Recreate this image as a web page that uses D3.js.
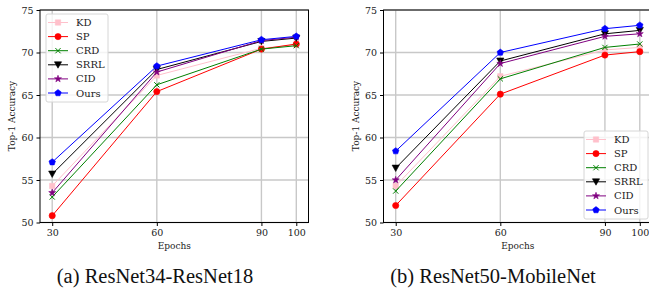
<!DOCTYPE html>
<html>
<head>
<meta charset="utf-8">
<script src="https://cdn.jsdelivr.net/npm/d3@7"></script>
<style>
  body { margin: 0; background: #fff; }
  svg { display: block; }
  .tick text { font-family: "DejaVu Serif", serif; font-size: 9.5px; fill: #222; }
</style>
</head>
<body>
<svg id="chart" width="649" height="295"></svg>
<script>
// data
var epochs   = [30, 60, 90, 100];
var methods  = ["KD", "SP", "CRD", "SRRL", "CID", "Ours"];
var colors   = ["#ffc0cb", "#ff0000", "#008000", "#000000", "#800080", "#0000ff"];
var markers  = ["square", "circle", "x", "tri", "star", "pent"];
var yTicks   = [50, 55, 60, 65, 70, 75];

// (a) ResNet34-ResNet18
var aKD   = [54.3, 67.3, 70.5, 70.9];
var aSP   = [50.8, 65.4, 70.4, 71.0];
var aCRD  = [53.0, 66.2, 70.4, 70.8];
var aSRRL = [55.7, 68.0, 71.3, 71.7];
var aCID  = [53.5, 67.7, 71.4, 71.8];
var aOurs = [57.1, 68.4, 71.5, 71.9];

// (b) ResNet50-MobileNet
var bKD   = [54.3, 67.2, 70.3, 70.6];
var bSP   = [52.0, 65.1, 69.7, 70.1];
var bCRD  = [53.7, 66.9, 70.6, 71.0];
var bSRRL = [56.4, 69.0, 72.2, 72.6];
var bCID  = [55.0, 68.7, 71.9, 72.2];
var bOurs = [58.4, 70.0, 72.8, 73.2];

var svg = d3.select("#chart");

function markerPath(kind) {
  var s = 6;
  if (kind == "square")   return d3.symbol().type(d3.symbolSquare).size(s * s * 0.8)();
  if (kind == "circle")   return d3.symbol().type(d3.symbolCircle).size(s * s * 0.85)();
  if (kind == "x")        return "M-2.6,-2.6L2.6,2.6M-2.6,2.6L2.6,-2.6";
  if (kind == "tri")      return "M-3.6,-3L3.6,-3L0,3.4Z";
  if (kind == "star")     return d3.symbol().type(d3.symbolStar).size(15)();
  if (kind == "pent") {
    var p = [];
    for (var i = 0; i < 5; i++) {
      var a = -Math.PI / 2 + i * 2 * Math.PI / 5;
      p.push([3.4 * Math.cos(a), 3.4 * Math.sin(a)]);
    }
    return "M" + p.join("L") + "Z";
  }
}

function drawMarker(g, kind, color, x, y) {
  var m = g.append("path")
      .attr("d", markerPath(kind))
      .attr("transform", "translate(" + x + "," + y + ")");
  if (kind == "x") m.attr("fill", "none").attr("stroke", color).attr("stroke-width", 1);
  else m.attr("fill", color).attr("stroke", color).attr("stroke-width", 0.6);
}

function panel(opt) {
  var x = d3.scaleLinear().domain([26.5, 103.5]).range([opt.left, opt.right]);
  var y = d3.scaleLinear().domain([50, 75]).range([222.5, 10]);
  var g = svg.append("g");

  // grid
  g.selectAll(".gx").data(epochs).enter().append("line")
      .attr("x1", function(d) { return x(d); }).attr("x2", function(d) { return x(d); })
      .attr("y1", y(50)).attr("y2", y(75))
      .attr("stroke", "#c8c8c8").attr("stroke-width", 1.4);
  g.selectAll(".gy").data(yTicks).enter().append("line")
      .attr("x1", opt.left).attr("x2", opt.right)
      .attr("y1", function(d) { return y(d); }).attr("y2", function(d) { return y(d); })
      .attr("stroke", "#c8c8c8").attr("stroke-width", 1.4);

  // series
  var line = d3.line().x(function(d, i) { return x(epochs[i]); }).y(function(d) { return y(d); });
  opt.series.forEach(function(s, k) {
    g.append("path").datum(s)
        .attr("d", line)
        .attr("fill", "none")
        .attr("stroke", colors[k])
        .attr("stroke-width", 1);
    s.forEach(function(v, i) { drawMarker(g, markers[k], colors[k], x(epochs[i]), y(v)); });
  });

  // frame
  g.append("rect")
      .attr("x", opt.left).attr("y", y(75))
      .attr("width", opt.right - opt.left).attr("height", y(50) - y(75))
      .attr("fill", "none").attr("stroke", "#000").attr("stroke-width", 1);

  // axes
  g.append("g").attr("transform", "translate(0," + y(50) + ")")
      .call(d3.axisBottom(x).tickValues(epochs).tickSize(3.5).tickPadding(3))
      .call(function(a) { a.select(".domain").remove(); });
  g.append("g").attr("transform", "translate(" + opt.left + ",0)")
      .call(d3.axisLeft(y).tickValues(yTicks).tickSize(3.5).tickPadding(3))
      .call(function(a) { a.select(".domain").remove(); });

  g.append("text")
      .attr("x", (opt.left + opt.right) / 2).attr("y", 249)
      .attr("text-anchor", "middle")
      .style("font-family", "DejaVu Serif, serif").style("font-size", "9px").style("fill", "#222")
      .text("Epochs");
  g.append("text")
      .attr("transform", "translate(" + (opt.left - 25) + ",116) rotate(-90)")
      .attr("text-anchor", "middle")
      .style("font-family", "DejaVu Serif, serif").style("font-size", "9px").style("fill", "#222")
      .text("Top-1 Accuracy");

  // legend
  var lg = g.append("g");
  lg.append("rect")
      .attr("x", opt.lx).attr("y", opt.ly)
      .attr("width", opt.lw).attr("height", 88).attr("rx", 2)
      .attr("fill", "rgba(255,255,255,0.8)").attr("stroke", "#d6d6d6").attr("stroke-width", 1);
  methods.forEach(function(name, k) {
    var yy = opt.ly + 8.5 + k * 14.1;
    lg.append("line")
        .attr("x1", opt.lx + 2).attr("x2", opt.lx + 22)
        .attr("y1", yy).attr("y2", yy)
        .attr("stroke", colors[k]).attr("stroke-width", 1);
    drawMarker(lg, markers[k], colors[k], opt.lx + 12, yy);
    lg.append("text")
        .attr("x", opt.lx + 30).attr("y", yy + 3.5)
        .style("font-family", "DejaVu Serif, serif").style("font-size", "10px").style("fill", "#222")
        .text(name);
  });

  // caption
  svg.append("text")
      .attr("x", opt.cx).attr("y", 283)
      .attr("text-anchor", "middle")
      .style("font-family", "Liberation Serif, serif").style("font-size", "20.5px").style("fill", "#111")
      .text(opt.caption);
}

panel({ left: 40, right: 308.5, series: [aKD, aSP, aCRD, aSRRL, aCID, aOurs],
        lx: 46, ly: 14, lw: 62, cx: 155, caption: "(a) ResNet34-ResNet18" });
panel({ left: 383.5, right: 652, series: [bKD, bSP, bCRD, bSRRL, bCID, bOurs],
        lx: 584, ly: 131, lw: 64, cx: 493, caption: "(b) ResNet50-MobileNet" });
</script>
</body>
</html>
